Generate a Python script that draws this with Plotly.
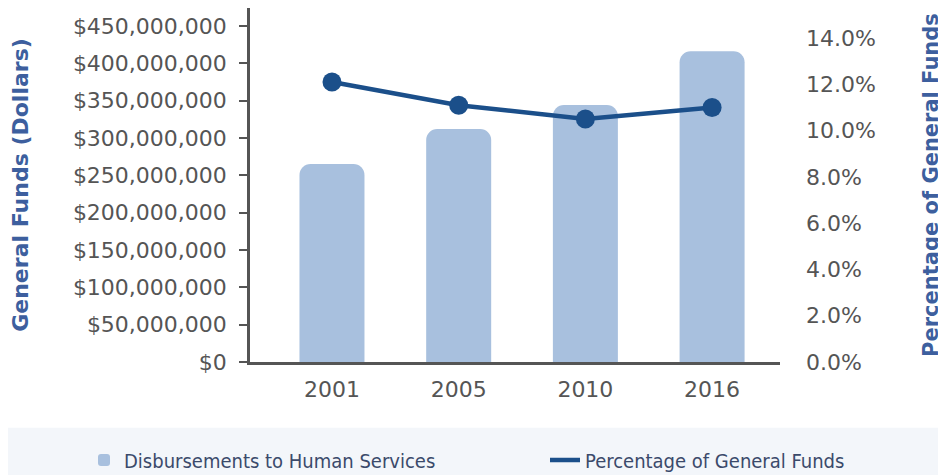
import plotly.graph_objects as go

years = ["2001", "2005", "2010", "2016"]
disbursements = [265e6, 312e6, 344e6, 416e6]
pct_general = [12.1, 11.1, 10.5, 11.0]

left_tickvals = [0, 50e6, 100e6, 150e6, 200e6, 250e6, 300e6, 350e6, 400e6, 450e6]
left_ticktext = ["$0", "$50,000,000", "$100,000,000", "$150,000,000", "$200,000,000",
                 "$250,000,000", "$300,000,000", "$350,000,000", "$400,000,000", "$450,000,000"]
right_tickvals = [0, 2, 4, 6, 8, 10, 12, 14]
right_ticktext = ["0.0%", "2.0%", "4.0%", "6.0%", "8.0%", "10.0%", "12.0%", "14.0%"]

BAR = "#a8c0de"
LINE = "#1b4f8a"
AX = "#555555"
TITLE = "#3d5f9e"
FONT = "DejaVu Sans"
LEG_FONT = dict(family="DejaVu Sans Condensed", size=20, color="#3b4a6b")

W, H = 938, 467

fig = go.Figure()
fig.add_trace(go.Bar(
    x=years, y=disbursements, name="Disbursements to Human Services",
    marker=dict(color=BAR, line=dict(width=0), cornerradius=11),
    width=0.513, yaxis="y", legend="legend",
))
fig.add_trace(go.Scatter(
    x=years, y=pct_general, name="Percentage of General Funds",
    mode="lines", line=dict(color=LINE, width=4.5),
    yaxis="y2", legend="legend2",
))
fig.add_trace(go.Scatter(
    x=years, y=pct_general, name="Percentage of General Funds",
    mode="markers", marker=dict(size=19, color=LINE),
    yaxis="y2", showlegend=False,
))

fig.update_layout(
    width=W, height=H,
    margin=dict(l=242, r=166, t=0, b=113, autoexpand=False),
    paper_bgcolor="white", plot_bgcolor="white",
    font=dict(family=FONT, color=AX, size=22),
    xaxis=dict(
        type="category", range=[-0.647, 3.536], automargin=False,
        showline=True, linecolor=AX, linewidth=2.5,
        ticks="", showgrid=False, zeroline=False,
        tickfont=dict(family=FONT, size=22, color=AX),
        ticklabelstandoff=6,
    ),
    yaxis=dict(
        range=[0, 474e6], tickvals=left_tickvals, ticktext=left_ticktext,
        automargin=False,
        showline=True, linecolor=AX, linewidth=2.5,
        ticks="outside", ticklen=8, tickwidth=2, tickcolor=AX,
        showgrid=False, zeroline=False,
        tickfont=dict(family=FONT, size=22, color=AX),
        ticklabelstandoff=8,
        title=dict(text="General Funds (Dollars)",
                   font=dict(family=FONT, size=22, color=TITLE, weight="bold"),
                   standoff=39),
    ),
    yaxis2=dict(
        range=[0, 15.3], tickvals=right_tickvals, ticktext=right_ticktext,
        overlaying="y", side="right", anchor="x", automargin=False,
        showline=False, ticks="", showgrid=False, zeroline=False,
        tickfont=dict(family=FONT, size=22, color=AX),
        ticklabelstandoff=25,
        title=dict(text="Percentage of General Funds",
                   font=dict(family=FONT, size=21, color=TITLE, weight="bold"),
                   standoff=48),
    ),
    barcornerradius=11,
    showlegend=True,
    legend=dict(
        orientation="h", xref="container", yref="container",
        x=76 / W, xanchor="left", y=(H - 452) / H, yanchor="middle",
        bgcolor="rgba(0,0,0,0)", font=LEG_FONT,
    ),
    legend2=dict(
        orientation="h", xref="container", yref="container",
        x=537 / W, xanchor="left", y=(H - 452) / H, yanchor="middle",
        bgcolor="rgba(0,0,0,0)", font=LEG_FONT,
    ),
    shapes=[dict(
        type="rect", xref="paper", yref="paper",
        x0=-0.46, x1=1.32, y0=-0.186, y1=-0.33,
        fillcolor="#f3f6fa", line=dict(width=0), layer="below",
    )],
)

fig.write_html("out.html")
